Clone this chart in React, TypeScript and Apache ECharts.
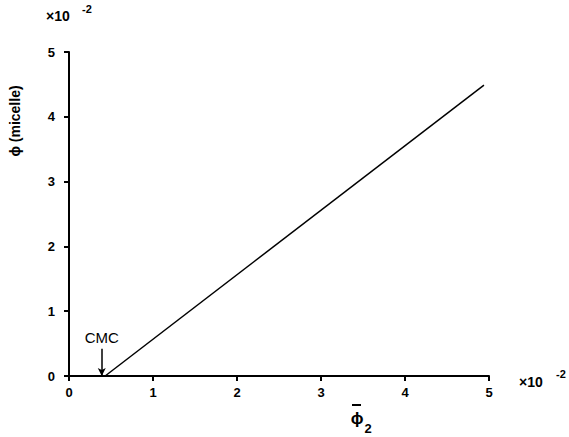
import React, { useEffect, useRef } from "react";
import * as echarts from "echarts";

// Micelle volume fraction vs. overall polymer fraction (both in units of 10^-2)
const phi2Bar = [0.43, 4.94];
const phiMicelle = [0, 4.49];
const cmcValue = 0.39;
const tickValues = [0, 1, 2, 3, 4, 5];

const FONT = "'Liberation Sans', Arial, sans-serif";

export default function App() {
  const ref = useRef<HTMLDivElement>(null);

  useEffect(() => {
    if (!ref.current) return;
    const chart = echarts.init(ref.current, undefined, { renderer: "svg" });
    const data = phi2Bar.map((x, i) => [x, phiMicelle[i]]);
    const axisCommon = {
      type: "value" as const,
      min: tickValues[0],
      max: tickValues[tickValues.length - 1],
      interval: 1,
      splitLine: { show: false },
      axisLine: { show: true, lineStyle: { color: "#000", width: 2 } },
      axisTick: { show: true, length: 5, lineStyle: { color: "#000", width: 2 } },
    };
    chart.setOption({
      animation: false,
      backgroundColor: "#fff",
      grid: { left: 69, top: 52, right: 80, bottom: 61, containLabel: false },
      xAxis: {
        ...axisCommon,
        axisLabel: {
          margin: 10,
          color: "#000",
          fontFamily: FONT,
          fontWeight: "bold",
          fontSize: 13,
        },
      },
      yAxis: {
        ...axisCommon,
        axisLabel: {
          margin: 14,
          color: "#000",
          fontFamily: FONT,
          fontWeight: "bold",
          fontSize: 13,
        },
      },
      series: [
        {
          type: "line",
          data,
          showSymbol: false,
          lineStyle: { color: "#000", width: 1.5 },
          markLine: {
            silent: true,
            symbol: ["none", "arrow"],
            symbolSize: [6, 8],
            lineStyle: { color: "#000", width: 1.5, type: "solid" },
            label: {
              show: true,
              position: "start",
              formatter: "CMC",
              color: "#000",
              fontFamily: FONT,
              fontSize: 15,
              distance: 4,
            },
            data: [[{ coord: [cmcValue, 0.42] }, { coord: [cmcValue, 0] }]],
          },
        },
      ],
      graphic: [
        // scale factor, top of y axis
        {
          type: "text",
          left: 46,
          top: 9,
          style: { text: "×10", fill: "#000", font: `bold 14px ${FONT}` },
        },
        {
          type: "text",
          left: 82,
          top: 3,
          style: { text: "-2", fill: "#000", font: `bold 11px ${FONT}` },
        },
        // scale factor, end of x axis
        {
          type: "text",
          left: 519,
          top: 375,
          style: { text: "×10", fill: "#000", font: `bold 14px ${FONT}` },
        },
        {
          type: "text",
          left: 556,
          top: 368,
          style: { text: "-2", fill: "#000", font: `bold 11px ${FONT}` },
        },
        // y axis title
        {
          type: "text",
          x: 15,
          y: 121,
          rotation: Math.PI / 2,
          style: {
            text: "ϕ (micelle)",
            fill: "#000",
            font: `bold 14px ${FONT}`,
            align: "center",
            verticalAlign: "middle",
          },
        },
        // x axis title: phi-bar with subscript 2
        {
          type: "text",
          x: 357,
          y: 418,
          style: {
            text: "ϕ",
            fill: "#000",
            font: `bold 17px ${FONT}`,
            align: "center",
            verticalAlign: "middle",
          },
        },
        {
          type: "rect",
          shape: { x: 352, y: 404, width: 9, height: 2 },
          style: { fill: "#000" },
        },
        {
          type: "text",
          x: 368,
          y: 428,
          style: {
            text: "2",
            fill: "#000",
            font: `bold 13px ${FONT}`,
            align: "center",
            verticalAlign: "middle",
          },
        },
      ],
    });
    return () => chart.dispose();
  }, []);

  return (
    <div
      ref={ref}
      style={{ position: "fixed", left: 0, top: 0, width: 569, height: 437 }}
    />
  );
}
